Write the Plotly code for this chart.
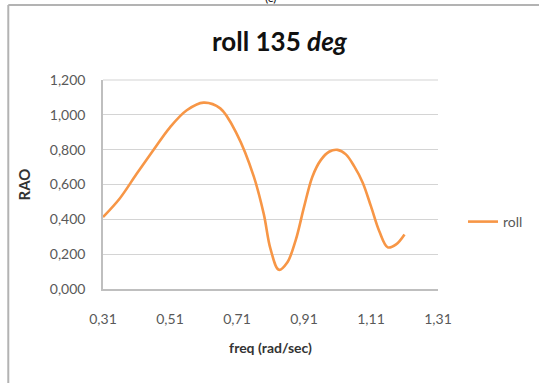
import plotly.graph_objects as go

# Roll RAO response, heading 135 deg
freq = [0.31, 0.36, 0.41, 0.46, 0.51, 0.56, 0.61, 0.66, 0.71, 0.76, 0.79,
        0.81, 0.835, 0.86, 0.885, 0.91, 0.935, 0.96, 0.985, 1.01, 1.035,
        1.06, 1.085, 1.11, 1.135, 1.16, 1.185, 1.21]
rao = [0.413, 0.52, 0.66, 0.796, 0.928, 1.026, 1.07, 1.037, 0.888, 0.647,
       0.43, 0.23, 0.110, 0.152, 0.279, 0.47, 0.645, 0.740, 0.788, 0.799,
       0.773, 0.704, 0.612, 0.474, 0.33, 0.239, 0.256, 0.313]

x_ticks = [0.31, 0.51, 0.71, 0.91, 1.11, 1.31]
y_ticks = [0.0, 0.2, 0.4, 0.6, 0.8, 1.0, 1.2]


def comma(v, nd):
    return f"{v:.{nd}f}".replace(".", ",")


W, H = 539, 383
L, R, T, B = 103, 100, 80, 94
pw, ph = W - L - R, H - T - B


def px(xp):
    return (xp - L) / pw


def py(yp):
    return (H - B - yp) / ph


font = "Lato, 'Open Sans', sans-serif"
grey = "#595959"

fig = go.Figure()
fig.add_trace(go.Scatter(
    x=freq, y=rao, mode="lines", name="roll",
    line=dict(color="#f79646", width=2.6, shape="spline", smoothing=1.0),
))

fig.update_layout(
    width=W, height=H,
    margin=dict(l=L, r=R, t=T, b=B),
    paper_bgcolor="white", plot_bgcolor="white",
    font=dict(family=font, color=grey, size=14),
    title=dict(
        text="<b>roll 135 <i>deg</i></b>",
        x=px(280), xanchor="center", xref="paper",
        y=1 - 42 / H, yanchor="middle",
        font=dict(size=26, color="#111111", family=font),
    ),
    showlegend=True,
    legend=dict(
        x=px(463), xanchor="left", y=py(222), yanchor="middle",
        font=dict(size=14, color=grey, family=font),
        bgcolor="rgba(0,0,0,0)", itemwidth=30,
    ),
    xaxis=dict(
        range=[0.31, 1.31], tickvals=x_ticks,
        ticktext=[comma(v, 2) for v in x_ticks],
        showgrid=False, zeroline=False,
        showline=True, linecolor="#bfbfbf", linewidth=1.5,
        ticks="", ticklabelstandoff=16,
        tickfont=dict(size=14, color=grey, family=font),
        title=dict(text="<b>freq (rad/sec)</b>", standoff=18,
                   font=dict(size=14, color="#333333", family=font)),
    ),
    yaxis=dict(
        range=[0, 1.2], tickvals=y_ticks,
        ticktext=[comma(v, 3) for v in y_ticks],
        showgrid=True, gridcolor="#d4d4d4", gridwidth=1.2,
        zeroline=False,
        showline=True, linecolor="#bfbfbf", linewidth=1.5,
        ticks="", ticklabelstandoff=13,
        tickfont=dict(size=14, color=grey, family=font),
        title=dict(text="<b>RAO</b>", standoff=16,
                   font=dict(size=15, color="#333333", family=font)),
    ),
)

# Top gridline at 1,200 drawn across the plot top
fig.add_shape(type="line", xref="paper", yref="paper", x0=0, x1=1, y0=1, y1=1,
              line=dict(color="#d4d4d4", width=1.2))

# Chart frame (top and left edges)
fig.add_shape(type="line", xref="paper", yref="paper",
              x0=px(8), x1=px(W + 5), y0=py(5), y1=py(5),
              line=dict(color="#b3b3b3", width=2))
fig.add_shape(type="line", xref="paper", yref="paper",
              x0=px(8), x1=px(8), y0=py(5), y1=py(H + 5),
              line=dict(color="#b3b3b3", width=2))

# Caption partly cut off above the frame
fig.add_annotation(text="(c)", xref="paper", yref="paper",
                   x=px(272), y=py(-2), xanchor="center", yanchor="middle",
                   showarrow=False, font=dict(size=12, color="#111111", family=font))

fig.write_html("out.html")
